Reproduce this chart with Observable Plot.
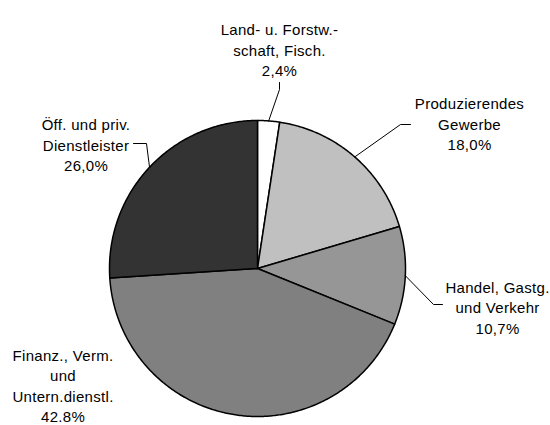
<!DOCTYPE html>
<html>
<head>
<meta charset="utf-8">
<script src="https://cdn.jsdelivr.net/npm/d3@7"></script>
<script src="https://cdn.jsdelivr.net/npm/@observablehq/plot@0.6"></script>
<style>
  html, body { margin: 0; padding: 0; background: #fff; }
  #chart { width: 550px; height: 425px; }
</style>
</head>
<body>
<div id="chart"></div>
<script>
// ---- data ----
const categories = [
  "Land- u. Forstw.-\nschaft, Fisch.",
  "Produzierendes\nGewerbe",
  "Handel, Gastg.\nund Verkehr",
  "Finanz., Verm.\nund\nUntern.dienstl.",
  "Öff. und priv.\nDienstleister"
];
const shares = [2.4, 18.0, 10.7, 42.8, 26.0];
const valueLabels = ["2,4%", "18,0%", "10,7%", "42.8%", "26,0%"];

// ---- styles / layout (pixels) ----
const sliceColors = ["#ffffff", "#c0c0c0", "#969696", "#808080", "#333333"];
const W = 550, H = 425, CX = 257, CY = 268, R = 148;
const FONT = 15, LINE = 20.5;
// label block centres (pixels)
const labelLayout = [
  {px: 279,   py: 48.5},
  {px: 469,   py: 122.5},
  {px: 497,   py: 306},
  {px: 62.5,  py: 384.5},
  {px: 85.5,  py: 143.5}
];
// leader line elbow and end points (pixels); null = no leader
const leaderLayout = [
  [[279, 89], [279, 82]],
  [[400, 124], [410, 124]],
  [[433, 304], [442, 304]],
  null,
  [[146, 143], [133, 143]]
];

const ux = px => (px - CX) / R;
const uy = py => (CY - py) / R;

// ---- geometry from data ----
const arcs = d3.pie().sort(null).value(d => d)(shares);
const slicePts = [];
arcs.forEach((a, i) => {
  const cat = categories[i];
  slicePts.push({cat, x: 0, y: 0});
  const n = Math.max(2, Math.ceil((a.endAngle - a.startAngle) / 0.01));
  for (let k = 0; k <= n; k++) {
    const t = a.startAngle + (a.endAngle - a.startAngle) * k / n;
    slicePts.push({cat, x: Math.sin(t), y: Math.cos(t)});
  }
  slicePts.push({cat, x: 0, y: 0});
});

const labels = categories.map((c, i) => ({
  text: c + "\n" + valueLabels[i],
  x: ux(labelLayout[i].px),
  y: uy(labelLayout[i].py)
}));

const leaders = [];
arcs.forEach((a, i) => {
  if (!leaderLayout[i]) return;
  const m = (a.startAngle + a.endAngle) / 2;
  leaders.push({id: i, x: Math.sin(m), y: Math.cos(m)});
  leaderLayout[i].forEach(([px, py]) => leaders.push({id: i, x: ux(px), y: uy(py)}));
});

const chart = Plot.plot({
  width: W,
  height: H,
  margin: 0,
  style: {fontFamily: "'Liberation Sans', Arial, sans-serif", background: "#fff", letterSpacing: "0.3px"},
  x: {domain: [ux(0), ux(W)], axis: null},
  y: {domain: [uy(H), uy(0)], axis: null},
  color: {domain: categories, range: sliceColors},
  marks: [
    Plot.line(slicePts, {x: "x", y: "y", z: "cat", fill: "cat", stroke: "#000", strokeWidth: 1.5, strokeLinejoin: "round", curve: "linear"}),
    Plot.line(leaders, {x: "x", y: "y", z: "id", stroke: "#000", strokeWidth: 1}),
    Plot.text(labels, {x: "x", y: "y", text: "text", fontSize: FONT, lineHeight: LINE / FONT, lineAnchor: "middle", textAnchor: "middle", fill: "#000"})
  ]
});
document.getElementById("chart").appendChild(chart);
</script>
</body>
</html>
